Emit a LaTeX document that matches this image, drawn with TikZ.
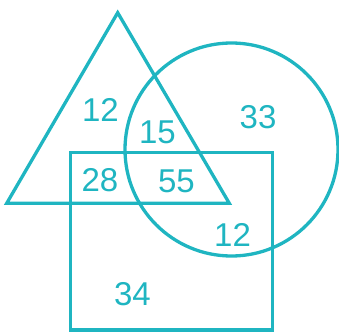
\documentclass[tikz,border=0pt]{standalone}
\usepackage{fontspec}
\setmainfont{Liberation Sans}
\definecolor{vteal}{HTML}{1FB5C1}

\begin{document}
\begin{tikzpicture}[x=1pt, y=-1pt, line width=3.3pt,
  num/.style={font=\fontsize{33}{33}\selectfont, text=vteal, inner sep=0pt}]

\useasboundingbox (0,0) rectangle (339,331);

% Triangle
\draw[vteal, line join=miter] (117.7,12.7) -- (229.3,203.3) -- (6.7,203.3) -- cycle;

% Circle
\draw[vteal] (231.5,149.5) circle (106.5);

% Rectangle
\draw[vteal] (70.7,330) rectangle (272.7,152.3);

% Region counts
\node[num] (triOnly) at (100.5,110) {12};
\node[num] (triCirc) at (157.5,132) {15};
\node[num] (circOnly) at (258,117.5) {33};
\node[num] (triRect) at (100,180) {28};
\node[num] (allThree) at (176.5,181.5) {55};
\node[num] (circRect) at (232.5,234.5) {12};
\node[num] (rectOnly) at (132.5,294.5) {34};

\end{tikzpicture}
\end{document}
